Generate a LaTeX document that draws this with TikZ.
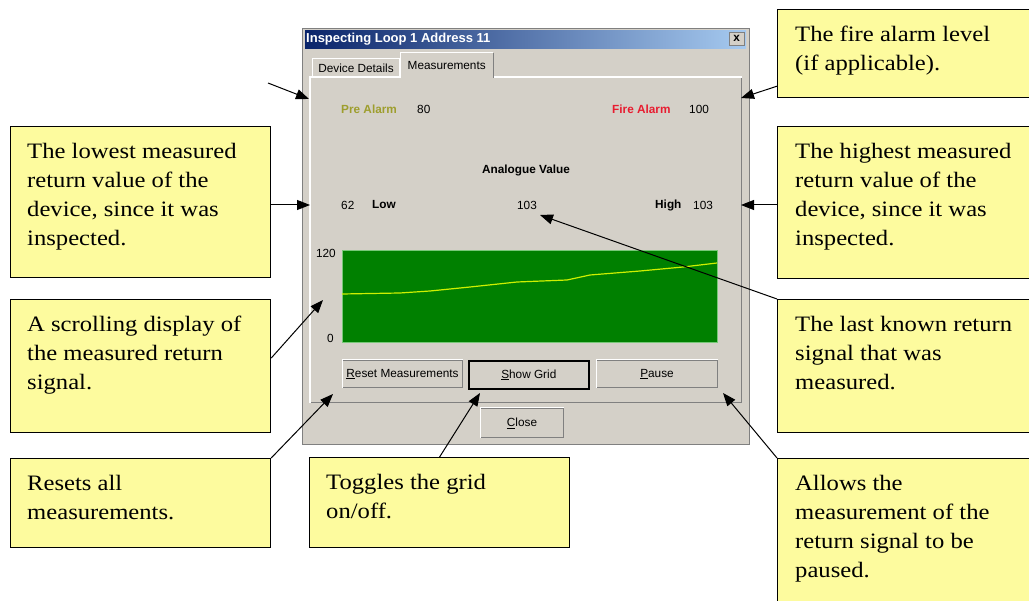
\documentclass[tikz,border=0pt]{standalone}
\usepackage{fontspec}
\setmainfont{Liberation Sans}
\newfontfamily\notefont[FakeStretch=1.12]{Liberation Serif}
\usetikzlibrary{arrows.meta}
\definecolor{notefill}{RGB}{253,251,158}
\definecolor{winbg}{RGB}{212,208,200}
\definecolor{winshade}{RGB}{128,128,128}
\definecolor{titleleft}{RGB}{10,36,106}
\definecolor{titleright}{RGB}{166,202,240}
\definecolor{prealarm}{RGB}{158,158,46}
\definecolor{firered}{RGB}{232,28,48}
\definecolor{graphgreen}{RGB}{0,128,0}
\definecolor{graphedge}{RGB}{120,200,120}
\definecolor{sigline}{RGB}{205,240,0}

\begin{document}
\begin{tikzpicture}
[x=1pt, y=-1pt, every node/.style={inner sep=0pt},
 box/.style={anchor=north west, rectangle},
 note/.style={box, fill=notefill, draw=black, line width=1.2pt},
 notetext/.style={anchor=north west, align=left, font=\notefont\fontsize{22}{29}\selectfont},
 ui/.style={font=\fontsize{11.8}{14}\selectfont},
 uibold/.style={font=\bfseries\fontsize{11.8}{14}\selectfont},
 button/.style={box, fill=winbg, draw=winshade, line width=1pt, ui},
 pointer/.style={line width=1pt, -{Triangle[length=13pt, width=10pt]}, color=black}]
\useasboundingbox (0,0) rectangle (1029,601);
\fill [white] (0,0) rectangle (1029,601);
\node (win) [box, fill=winbg, draw=winshade, line width=1pt, minimum width=447pt, minimum height=416pt] at (302, 28) {};
\node (title) [box, left color=titleleft, right color=titleright, minimum width=441pt, minimum height=18pt] at (305, 30) {};
\node (titletext) [anchor=west, text=white, font=\bfseries\fontsize{13}{15}\selectfont] at (306, 39) {Inspecting Loop 1 Address 11};
\node (xbtn) [box, fill=winbg, draw=winshade, minimum width=15pt, minimum height=13pt, uibold] at (729, 32) {x};
\node (devtab) [box, fill=winbg, draw=white, line width=1pt, minimum width=87pt, minimum height=20pt, ui] at (312, 58) {Device Details};
\node (panel) [box, fill=winbg, draw=winshade, line width=1.2pt, minimum width=431pt, minimum height=325pt] at (310, 77) {};
\draw [white, line width=1.2pt] (panel.south west) |- (panel.north east);
\node (meastab) [box, fill=winbg, minimum width=93pt, minimum height=25pt, ui] at (400, 53) {Measurements};
\draw [white, line width=1pt] (meastab.south west) |- (meastab.north east);
\draw [winshade, line width=1.2pt] (meastab.north east) -- (meastab.south east);
\node (prelabel) [anchor=west, uibold, text=prealarm] at (341, 109) {Pre Alarm};
\node (preval) [anchor=west, ui] at (417, 109) {80};
\node (firelabel) [anchor=west, uibold, text=firered] at (612, 109) {Fire Alarm};
\node (fireval) [anchor=west, ui] at (689, 109) {100};
\node (analogue) [uibold] at (526, 170) {Analogue Value};
\node (lowval) [anchor=west, ui] at (341, 205) {62};
\node (lowlabel) [anchor=west, uibold] at (372, 205) {Low};
\node (curval) [ui] at (527, 205) {103};
\node (highlabel) [anchor=west, uibold] at (655, 205) {High};
\node (highval) [anchor=west, ui] at (693, 205) {103};
\node (graph) [box, fill=graphgreen, draw=graphedge, line width=0.8pt, minimum width=375pt, minimum height=92pt] at (342, 250) {};
\node (ymax) [anchor=east, ui] at (336, 253) {120};
\node (ymin) [anchor=east, ui] at (334, 338) {0};
\draw [sigline, line width=1.2pt] (342,294) -- (400,293) -- (430,291) -- (470,287) -- (517,282) -- (567,280) -- (590,275) -- (640,271) -- (683,267) -- (717,263);
\node (resetbtn) [button, minimum width=120pt, minimum height=27pt] at (342, 360) {\underline{R}eset Measurements};
\node (gridbtn) [button, draw=black, line width=1.6pt, minimum width=120pt, minimum height=28pt] at (468, 360) {\underline{S}how Grid};
\node (pausebtn) [button, minimum width=121pt, minimum height=27pt] at (596, 360) {\underline{P}ause};
\node (closebtn) [button, minimum width=83pt, minimum height=29pt] at (480, 408) {\underline{C}lose};
\foreach \b in {resetbtn, pausebtn, closebtn}
  \draw [white, line width=1pt] (\b.south west) |- (\b.north east);
\node (firebox) [note, minimum width=265pt, minimum height=88pt] at (777, 9) {};
\node (firetext) [notetext] at (795, 26) {The fire alarm level\\(if applicable).};
\node (highbox) [note, minimum width=265pt, minimum height=152pt] at (777, 126) {};
\node (hightext) [notetext] at (795, 143) {The highest measured\\return value of the\\device, since it was\\inspected.};
\node (lastbox) [note, minimum width=265pt, minimum height=133pt] at (777, 299) {};
\node (lasttext) [notetext] at (795, 316) {The last known return\\signal that was\\measured.};
\node (pausebox) [note, minimum width=265pt, minimum height=160pt] at (777, 458) {};
\node (pausetext) [notetext] at (795, 475) {Allows the\\measurement of the\\return signal to be\\paused.};
\node (lowbox) [note, minimum width=260pt, minimum height=151pt] at (10, 126) {};
\node (lowtext) [notetext] at (27, 143) {The lowest measured\\return value of the\\device, since it was\\inspected.};
\node (scrollbox) [note, minimum width=260pt, minimum height=133pt] at (10, 299) {};
\node (scrolltext) [notetext] at (27, 316) {A scrolling display of\\the measured return\\signal.};
\node (resetbox) [note, minimum width=260pt, minimum height=89pt] at (10, 458) {};
\node (resettext) [notetext] at (27, 475) {Resets all\\measurements.};
\node (togglebox) [note, minimum width=260pt, minimum height=90pt] at (309, 457) {};
\node (toggletext) [notetext] at (326, 474) {Toggles the grid\\on/off.};
\coordinate (freeend) at (268, 83);
\coordinate (tipfree) at (309, 99);
\coordinate (tipfire) at (741, 98);
\coordinate (tiplow) at (310, 205);
\coordinate (tiphigh) at (741, 205);
\coordinate (tipcur) at (540, 215);
\coordinate (tipscroll) at (323, 300);
\coordinate (tipreset) at (333, 394);
\coordinate (tipgrid) at (480, 393);
\coordinate (tippause) at (723, 393);
\draw [pointer] (freeend) to (tipfree);
\draw [pointer] ([yshift=12pt]firebox.south west) to (tipfire);
\draw [pointer] (lowbox.east |- tiplow) to (tiplow);
\draw [pointer] (highbox.west |- tiphigh) to (tiphigh);
\draw [pointer] (lastbox.north west) to (tipcur);
\draw [pointer] ([yshift=8pt]scrollbox.east) to (tipscroll);
\draw [pointer] (resetbox.north east) to (tipreset);
\draw [pointer] (togglebox.north) to (tipgrid);
\draw [pointer] (pausebox.north west) to (tippause);
\end{tikzpicture}
\end{document}
